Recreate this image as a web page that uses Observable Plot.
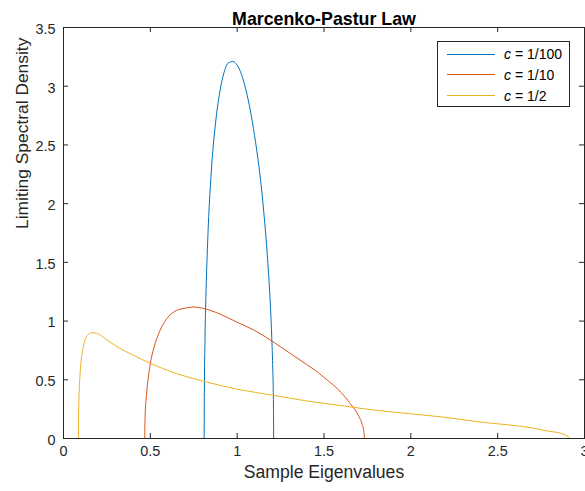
<!DOCTYPE html>
<html>
<head>
<meta charset="utf-8">
<script src="https://cdn.jsdelivr.net/npm/d3@7"></script>
<script src="https://cdn.jsdelivr.net/npm/@observablehq/plot@0.6"></script>
<style>
  html, body { margin: 0; padding: 0; background: #fff; }
  #wrap { position: relative; width: 585px; height: 491px; font-family: "Liberation Sans", Arial, sans-serif; }
  #legend { position: absolute; left: 437px; top: 41px; width: 133px; height: 66px; border: 1px solid #262626; background: #fff; box-sizing: border-box; }
  .row { position: absolute; left: 0; height: 20px; display: flex; align-items: center; font-size: 14px; color: #000; }
  .sw { width: 48px; height: 0; border-top: 1px solid; margin-left: 9px; margin-right: 9px; }
</style>
</head>
<body>
<div id="wrap"></div>
<script>
const seriesNames = ["c = 1/100", "c = 1/10", "c = 1/2"];
const seriesColors = ["#0072BD", "#D95319", "#EDB120"];

const x100 = [0.81,0.811,0.815,0.82,0.83,0.85,0.875,0.9,0.925,0.95,0.975,1.0,1.025,1.05,1.075,1.1,1.125,1.15,1.175,1.19,1.2,1.205,1.209,1.21];
const y100 = [0,0.39,0.87,1.21,1.67,2.25,2.68,2.95,3.12,3.20,3.21,3.18,3.10,2.97,2.80,2.58,2.32,1.98,1.53,1.17,0.83,0.59,0.26,0];

const x10 = [0.4675,0.47,0.475,0.48,0.49,0.5,0.52,0.55,0.6,0.65,0.7,0.75,0.8,0.9,1.0,1.1,1.2,1.3,1.4,1.45,1.5,1.55,1.6,1.65,1.7,1.72,1.73,1.7325];
const y10 = [0,0.19,0.32,0.41,0.54,0.64,0.77,0.90,1.03,1.09,1.11,1.12,1.11,1.06,0.99,0.92,0.83,0.73,0.63,0.58,0.52,0.46,0.39,0.30,0.19,0.12,0.05,0];

const x2 = [0.0858,0.087,0.09,0.095,0.1,0.11,0.12,0.14,0.16,0.18,0.2,0.25,0.3,0.4,0.5,0.6,0.7,0.8,1.0,1.2,1.4,1.6,1.8,2.0,2.2,2.4,2.6,2.7,2.8,2.85,2.9,2.91,2.914];
const y2 = [0,0.21,0.39,0.54,0.64,0.75,0.82,0.88,0.90,0.90,0.89,0.84,0.79,0.71,0.64,0.58,0.53,0.49,0.42,0.37,0.32,0.28,0.24,0.21,0.18,0.14,0.11,0.09,0.06,0.05,0.02,0.01,0];

const xTicks = [0, 0.5, 1, 1.5, 2, 2.5, 3];
const yTicks = [0, 0.5, 1, 1.5, 2, 2.5, 3, 3.5];

const titleText = "Marcenko-Pastur Law";
const xLabel = "Sample Eigenvalues";
const yLabel = "Limiting Spectral Density";

const seriesX = [x100, x10, x2];
const seriesY = [y100, y10, y2];
const data = seriesNames.flatMap((name, i) => seriesX[i].map((x, j) => ({series: name, x, y: seriesY[i][j]})));

const axisColor = "#262626";

const chart = Plot.plot({
  width: 585,
  height: 491,
  marginLeft: 63,
  marginRight: 1,
  marginTop: 27,
  marginBottom: 53,
  style: {fontFamily: "'Liberation Sans', Arial, sans-serif", color: axisColor, background: "#fff", overflow: "visible"},
  x: {domain: [0, 3], axis: null},
  y: {domain: [0, 3.5], axis: null},
  color: {domain: seriesNames, range: seriesColors},
  marks: [
    Plot.line(data, {x: "x", y: "y", z: "series", stroke: "series", strokeWidth: 1, curve: "monotone-x"}),
    Plot.frame({stroke: axisColor, strokeWidth: 1}),
    Plot.tickX(xTicks, {x: d => d, insetTop: 406, stroke: axisColor}),
    Plot.tickX(xTicks, {x: d => d, insetBottom: 406, stroke: axisColor}),
    Plot.tickY(yTicks, {y: d => d, insetRight: 516, stroke: axisColor}),
    Plot.tickY(yTicks, {y: d => d, insetLeft: 516, stroke: axisColor}),
    Plot.text(xTicks, {x: d => d, frameAnchor: "bottom", dy: 17.4, text: d => String(d), fontSize: 14.4, fill: axisColor}),
    Plot.text(yTicks, {y: d => d, frameAnchor: "left", dx: -8, dy: 1.7, textAnchor: "end", text: d => String(d), fontSize: 14.4, fill: axisColor}),
    Plot.text([titleText], {frameAnchor: "top", dy: -15.4, fontWeight: "bold", fontSize: 17.8, fill: "#000"}),
    Plot.text([xLabel], {frameAnchor: "bottom", dy: 39.5, fontSize: 17.6, fill: axisColor}),
    Plot.text([yLabel], {frameAnchor: "left", dx: -40.6, dy: -4, rotate: -90, fontSize: 17.4, fill: axisColor})
  ]
});

const wrap = document.getElementById("wrap");
wrap.appendChild(chart);

const legend = document.createElement("div");
legend.id = "legend";
seriesNames.forEach((name, i) => {
  const row = document.createElement("div");
  row.className = "row";
  row.style.top = (2 + i * 20.8) + "px";
  const sw = document.createElement("div");
  sw.className = "sw";
  sw.style.borderTopColor = seriesColors[i];
  const lab = document.createElement("span");
  const parts = name.split(" ");
  const it = document.createElement("i");
  it.textContent = parts[0];
  lab.appendChild(it);
  lab.appendChild(document.createTextNode(" " + parts.slice(1).join(" ")));
  row.appendChild(sw);
  row.appendChild(lab);
  legend.appendChild(row);
});
wrap.appendChild(legend);
</script>
</body>
</html>
